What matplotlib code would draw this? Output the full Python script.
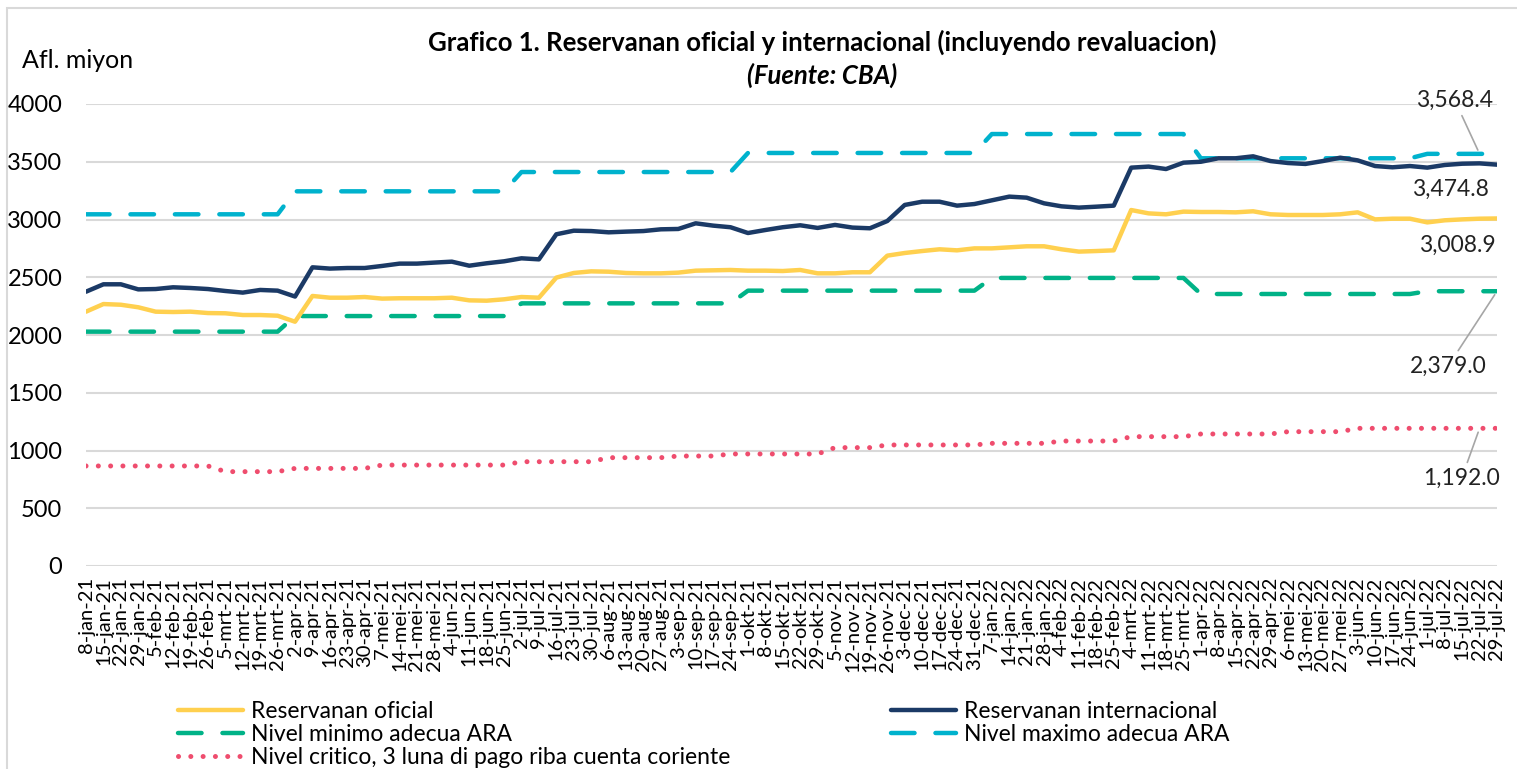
import matplotlib
matplotlib.use("Agg")
import matplotlib.pyplot as plt
from matplotlib.patches import Rectangle
from matplotlib.lines import Line2D

plt.rcParams['font.family'] = ['Lato', 'DejaVu Sans']

# weekly dates, Dutch month names as in the source
fechas = [
    "8-jan-21", "15-jan-21", "22-jan-21", "29-jan-21", "5-feb-21", "12-feb-21", "19-feb-21", "26-feb-21",
    "5-mrt-21", "12-mrt-21", "19-mrt-21", "26-mrt-21", "2-apr-21", "9-apr-21", "16-apr-21", "23-apr-21",
    "30-apr-21", "7-mei-21", "14-mei-21", "21-mei-21", "28-mei-21", "4-jun-21", "11-jun-21", "18-jun-21",
    "25-jun-21", "2-jul-21", "9-jul-21", "16-jul-21", "23-jul-21", "30-jul-21", "6-aug-21", "13-aug-21",
    "20-aug-21", "27-aug-21", "3-sep-21", "10-sep-21", "17-sep-21", "24-sep-21", "1-okt-21", "8-okt-21",
    "15-okt-21", "22-okt-21", "29-okt-21", "5-nov-21", "12-nov-21", "19-nov-21", "26-nov-21", "3-dec-21",
    "10-dec-21", "17-dec-21", "24-dec-21", "31-dec-21", "7-jan-22", "14-jan-22", "21-jan-22", "28-jan-22",
    "4-feb-22", "11-feb-22", "18-feb-22", "25-feb-22", "4-mrt-22", "11-mrt-22", "18-mrt-22", "25-mrt-22",
    "1-apr-22", "8-apr-22", "15-apr-22", "22-apr-22", "29-apr-22", "6-mei-22", "13-mei-22", "20-mei-22",
    "27-mei-22", "3-jun-22", "10-jun-22", "17-jun-22", "24-jun-22", "1-jul-22", "8-jul-22", "15-jul-22",
    "22-jul-22", "29-jul-22",
]

oficial = [
    2202, 2268, 2262, 2240, 2202, 2199, 2202, 2190, 2188, 2173, 2173, 2167, 2115, 2338, 2323, 2323,
    2329, 2315, 2318, 2318, 2318, 2323, 2300, 2297, 2309, 2329, 2323, 2497, 2537, 2551, 2548, 2537,
    2534, 2534, 2540, 2557, 2560, 2563, 2557, 2557, 2554, 2563, 2534, 2534, 2543, 2543, 2687, 2710,
    2727, 2742, 2733, 2750, 2750, 2759, 2768, 2768, 2742, 2722, 2727, 2733, 3082, 3053, 3045, 3068,
    3065, 3065, 3062, 3071, 3045, 3039, 3039, 3039, 3045, 3062, 3001, 3007, 3007, 2975, 2993, 3001,
    3007, 3008.9,
]

internacional = [
    2375, 2439, 2439, 2395, 2398, 2413, 2407, 2398, 2381, 2367, 2390, 2384, 2333, 2586, 2575, 2580,
    2580, 2598, 2618, 2618, 2627, 2635, 2600, 2621, 2638, 2664, 2655, 2872, 2903, 2900, 2889, 2895,
    2900, 2915, 2918, 2967, 2947, 2933, 2883, 2909, 2933, 2950, 2927, 2953, 2930, 2924, 2987, 3126,
    3154, 3154, 3120, 3134, 3166, 3198, 3189, 3140, 3114, 3103, 3111, 3120, 3449, 3458, 3437, 3492,
    3500, 3530, 3530, 3547, 3506, 3489, 3481, 3506, 3535, 3512, 3463, 3452, 3463, 3449, 3472, 3483,
    3486, 3474.8,
]

ara_min = [
    2029, 2029, 2029, 2029, 2029, 2029, 2029, 2029, 2029, 2029, 2029, 2029,
    2164, 2164, 2164, 2164, 2164, 2164, 2164, 2164, 2164, 2164, 2164, 2164, 2164,
    2274, 2274, 2274, 2274, 2274, 2274, 2274, 2274, 2274, 2274, 2274, 2274, 2274,
    2384, 2384, 2384, 2384, 2384, 2384, 2384, 2384, 2384, 2384, 2384, 2384, 2384, 2384,
    2494, 2494, 2494, 2494, 2494, 2494, 2494, 2494, 2494, 2494, 2494, 2494,
    2355, 2355, 2355, 2355, 2355, 2355, 2355, 2355, 2355, 2355, 2355, 2355, 2355,
    2379, 2379, 2379, 2379, 2379.0,
]

ara_max = [
    3045, 3045, 3045, 3045, 3045, 3045, 3045, 3045, 3045, 3045, 3045, 3045,
    3244, 3244, 3244, 3244, 3244, 3244, 3244, 3244, 3244, 3244, 3244, 3244, 3244,
    3411, 3411, 3411, 3411, 3411, 3411, 3411, 3411, 3411, 3411, 3411, 3411, 3411,
    3576, 3576, 3576, 3576, 3576, 3576, 3576, 3576, 3576, 3576, 3576, 3576, 3576, 3576,
    3740, 3740, 3740, 3740, 3740, 3740, 3740, 3740, 3740, 3740, 3740, 3740,
    3530, 3530, 3530, 3530, 3530, 3530, 3530, 3530, 3530, 3530, 3530, 3530, 3530,
    3568.4, 3568.4, 3568.4, 3568.4, 3568.4,
]

critico = [
    866, 866, 866, 866, 866, 866, 866, 866, 817, 817, 817, 817,
    845, 845, 845, 845, 845, 874, 874, 874, 874, 874, 874, 874, 874,
    903, 903, 903, 903, 903, 938, 938, 938, 938, 952, 952, 952,
    970, 970, 970, 970, 970, 970, 1025, 1025, 1025,
    1048, 1048, 1048, 1048, 1048, 1048, 1062, 1062, 1062, 1062,
    1082, 1082, 1082, 1082, 1120, 1120, 1120, 1120,
    1143, 1143, 1143, 1143, 1143, 1163, 1163, 1163, 1163,
    1192, 1192, 1192, 1192, 1192, 1192, 1192, 1192, 1192.0,
]

C_OF = "#FFD04F"
C_INT = "#1B3A66"
C_MIN = "#00B287"
C_MAX = "#00B2CD"
C_CRIT = "#EF4D6E"

W, H = 1517, 769
fig = plt.figure(figsize=(W / 100, H / 100), dpi=100)
ax = fig.add_axes([86 / W, 1 - 566 / H, (1497 - 86) / W, (566 - 104) / H])

x = list(range(len(fechas)))
dash = (5.3, 4.7)
dots = (0.01, 2.45)
ax.plot(x, oficial, color=C_OF, lw=3.2, solid_capstyle='round', zorder=3)
ax.plot(x, internacional, color=C_INT, lw=3.2, solid_capstyle='round', zorder=4)
ax.plot(x, ara_min, color=C_MIN, lw=3.2, dashes=dash, dash_capstyle='round', zorder=2)
ax.plot(x, ara_max, color=C_MAX, lw=3.2, dashes=dash, dash_capstyle='round', zorder=2)
ax.plot(x, critico, color=C_CRIT, lw=3.6, dashes=dots, dash_capstyle='round', zorder=2)

ax.set_xlim(0, len(fechas) - 1)
ax.set_ylim(0, 4000)
ax.set_yticks(range(0, 4001, 500))
ax.set_xticks(x)
ax.set_xticklabels(fechas, rotation=90, fontsize=14.5)
ax.tick_params(axis='y', length=0, pad=17, labelsize=17)
ax.tick_params(axis='x', length=0, pad=8)
ax.yaxis.grid(True, color='#D9D9D9', lw=1.5)
ax.set_axisbelow(True)
for s in ax.spines.values():
    s.set_visible(False)

# data labels at the last point
lbl = dict(fontsize=16.5, color='#222222', ha='center', va='center', textcoords='offset pixels')
leader = dict(arrowstyle='-', color='#A6A6A6', lw=1.2, shrinkA=2, shrinkB=3)
n = len(fechas) - 1
ax.annotate("3,568.4", xy=(n - 1, ara_max[n - 1]), xytext=(-25, 54), arrowprops=leader, **lbl)
ax.annotate("3,474.8", xy=(n, internacional[n]), xytext=(-47, -25), **lbl)
ax.annotate("3,008.9", xy=(n, oficial[n]), xytext=(-40, -27), **lbl)
ax.annotate("2,379.0", xy=(n, ara_min[n]), xytext=(-49, -75), arrowprops=leader, **lbl)
ax.annotate("1,192.0", xy=(n - 1, critico[n - 1]), xytext=(-18, -50), arrowprops=leader, **lbl)

fig.text(22 / W, 1 - 60 / H, "Afl. miyon", fontsize=18, ha='left', va='center')
fig.text(822 / W, 1 - 42 / H, "Grafico 1. Reservanan oficial y internacional (incluyendo revaluacion)",
         fontsize=18.5, fontweight='bold', ha='center', va='center')
fig.text(822 / W, 1 - 75 / H, "(Fuente: CBA)", fontsize=18.5, fontweight='bold', style='italic',
         ha='center', va='center')

# legend in two blocks like the Excel layout
def h(color, **kw):
    return Line2D([], [], color=color, lw=3.2, **kw)

leg_kw = dict(frameon=False, fontsize=16.5, handlelength=2.85, handletextpad=0.35,
              labelspacing=0.08, borderaxespad=0, borderpad=0)
leg1 = fig.legend([h(C_OF, solid_capstyle='round'),
                   h(C_MIN, dashes=dash, dash_capstyle='round'),
                   Line2D([], [], color=C_CRIT, lw=3.6, dashes=dots, dash_capstyle='round')],
                  ["Reservanan oficial", "Nivel minimo adecua ARA",
                   "Nivel critico, 3 luna di pago riba cuenta coriente"],
                  loc='upper left', bbox_to_anchor=(178 / W, 1 - 701 / H), **leg_kw)
leg2 = fig.legend([h(C_INT, solid_capstyle='round'),
                   h(C_MAX, dashes=dash, dash_capstyle='round')],
                  ["Reservanan internacional", "Nivel maximo adecua ARA"],
                  loc='upper left', bbox_to_anchor=(891 / W, 1 - 701 / H), **leg_kw)

fig.patches.append(Rectangle((7 / W, -0.1), 1.2, 1.1 - 8 / H, transform=fig.transFigure,
                             fill=False, edgecolor='#D9D9D9', lw=1.5))

fig.savefig("out.png", dpi=100)
